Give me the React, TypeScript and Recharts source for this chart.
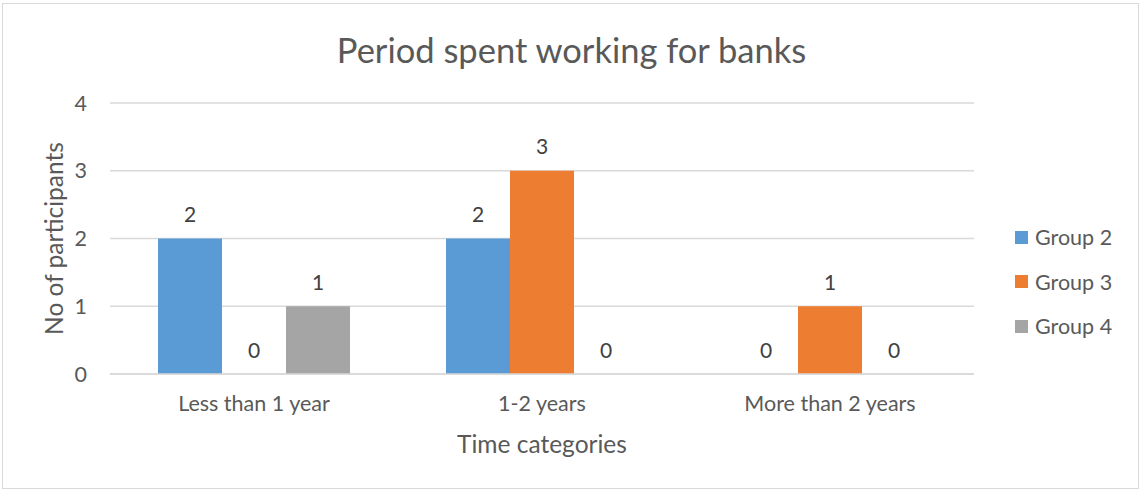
import { BarChart, Bar, XAxis, YAxis, CartesianGrid } from 'recharts';

const categories = ['Less than 1 year', '1-2 years', 'More than 2 years'];
const group2 = [2, 2, 0];
const group3 = [0, 3, 1];
const group4 = [1, 0, 0];
const yTicks = [0, 1, 2, 3, 4];

const data = categories.map((name, i) => ({
  name,
  g2: group2[i],
  g3: group3[i],
  g4: group4[i],
}));

const FONT = 'Lato, "Noto Sans", sans-serif';
const TEXT = '#595959';

const series = [
  { key: 'g2', name: 'Group 2', color: '#5B9BD5' },
  { key: 'g3', name: 'Group 3', color: '#ED7D31' },
  { key: 'g4', name: 'Group 4', color: '#A5A5A5' },
];

// bar + its data label; LabelList skips the zero bars, so draw the label here
const barWithLabel = (key: string, color: string) => (props: any) => {
  const { x, y, width, height, payload } = props;
  return (
    <g>
      {height > 0 && <rect x={x} y={y} width={width} height={height} fill={color} />}
      <text
        x={x + width / 2}
        y={y - 25}
        textAnchor="middle"
        dominantBaseline="central"
        fill="#404040"
        fontSize={21}
        fontFamily={FONT}
      >
        {String(payload[key])}
      </text>
    </g>
  );
};

export default function App() {
  return (
    <div style={{ position: 'absolute', left: 0, top: 0, width: 1141, height: 490, background: '#fff', fontFamily: FONT }}>
      <div style={{ position: 'absolute', left: 2, top: 3, width: 1137, height: 486, border: '1px solid #d9d9d9', boxSizing: 'border-box' }} />
      <div style={{ position: 'absolute', left: 0, width: 1141, top: 29, textAlign: 'center', fontSize: 34.5, color: TEXT, lineHeight: '42px', paddingLeft: 1 }}>
        Period spent working for banks
      </div>
      <BarChart
        width={1141}
        height={490}
        data={data}
        margin={{ top: 103, right: 167, bottom: 0, left: 0 }}
        barCategoryGap={48}
        barGap={0}
        style={{ position: 'absolute', left: 0, top: 0 }}
      >
        <CartesianGrid vertical={false} stroke="#d9d9d9" strokeWidth={1.3} />
        <XAxis
          dataKey="name"
          height={116}
          tickLine={false}
          tickSize={0}
          tickMargin={22}
          axisLine={{ stroke: '#d9d9d9', strokeWidth: 1.3 }}
          tick={{ fill: TEXT, fontSize: 21.5, fontFamily: FONT }}
          label={({ viewBox }: any) => (
            <text
              x={viewBox.x + viewBox.width / 2}
              y={viewBox.y + 69}
              textAnchor="middle"
              dominantBaseline="central"
              fill={TEXT}
              fontSize={24.5}
              fontFamily={FONT}
            >
              Time categories
            </text>
          )}
        />
        <YAxis
          width={110}
          domain={[0, 4]}
          ticks={yTicks}
          allowDecimals={false}
          axisLine={false}
          tickLine={false}
          tickSize={0}
          tickMargin={23}
          tick={{ fill: TEXT, fontSize: 21.5, fontFamily: FONT }}
          label={({ viewBox }: any) => {
            const cx = viewBox.x + 53;
            const cy = viewBox.y + viewBox.height / 2;
            return (
              <text
                x={cx}
                y={cy}
                transform={`rotate(-90, ${cx}, ${cy})`}
                textAnchor="middle"
                dominantBaseline="central"
                fill={TEXT}
                fontSize={24.5}
                fontFamily={FONT}
              >
                No of participants
              </text>
            );
          }}
        />
        {series.map((s) => (
          <Bar
            key={s.key}
            dataKey={s.key}
            name={s.name}
            fill={s.color}
            isAnimationActive={false}
            shape={barWithLabel(s.key, s.color)}
          />
        ))}
      </BarChart>
      <div style={{ position: 'absolute', left: 1015, top: 215, fontSize: 21.5, color: TEXT }}>
        {series.map((s) => (
          <div key={s.key} style={{ display: 'flex', alignItems: 'center', height: 44.5 }}>
            <span style={{ display: 'inline-block', width: 13, height: 13, background: s.color, marginRight: 7 }} />
            {s.name}
          </div>
        ))}
      </div>
    </div>
  );
}
